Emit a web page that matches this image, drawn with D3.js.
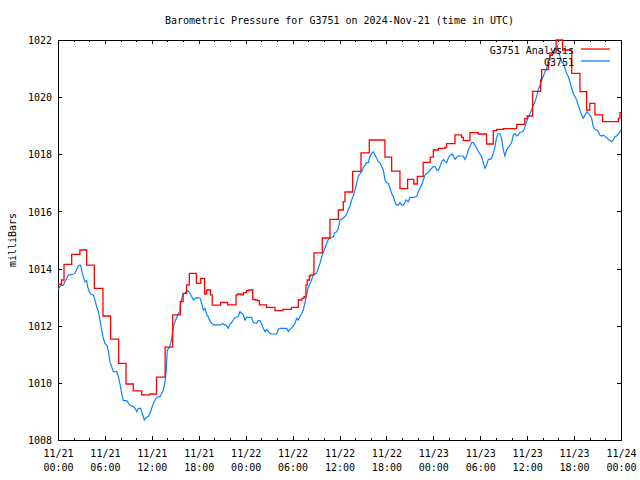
<!DOCTYPE html>
<html><head><meta charset="utf-8">
<script src="https://cdn.jsdelivr.net/npm/d3@7"></script>
<style>
body{margin:0;background:#fff}
svg text{font-family:"DejaVu Sans Mono",monospace;font-size:10px;fill:#000}
</style></head><body><svg id="c" width="640" height="480"></svg>
<script>
const chartTitle = "Barometric Pressure for G3751 on 2024-Nov-21 (time in UTC)";
const yAxisLabel = "milliBars";
const seriesNames = ["G3751 Analysis", "G3751"];
const seriesColors = ["#ff0000", "#0a84ff"];
const startUTC = Date.UTC(2024, 10, 21, 0, 0);
const spanHours = 72;
const yTicks = [1008, 1010, 1012, 1014, 1016, 1018, 1020, 1022];

// [hours since 11/21 00:00 UTC, millibars]
const analysisSeries = [
[0,1013.45],[0.45,1013.6],[0.77,1014.15],[1.75,1014.5],[2.8,1014.65],[3.67,1014.12],[4.65,1013.31],
[5.75,1012.34],[6.73,1011.53],[7.76,1010.68],[8.7,1009.96],[9.63,1009.72],[10.7,1009.58],[11.76,1009.61],
[12.6,1010.2],[13.7,1011.25],[14.67,1012.38],[15.64,1012.84],[16.0,1013.13],[16.45,1013.43],[16.8,1013.83],
[17.7,1013.48],[18.25,1013.66],[18.75,1013.11],[19.0,1013.25],[19.5,1013.08],[19.73,1012.72],[20.8,1012.82],
[21.7,1012.73],[22.77,1013.08],[23.0,1013.11],[23.4,1013.08],[23.7,1013.16],[24.1,1013.23],[24.4,1013.25],
[24.9,1012.92],[25.2,1012.9],[25.5,1012.88],[25.75,1012.73],[26.68,1012.64],[27.75,1012.53],[28.75,1012.57],
[29.87,1012.64],[30.73,1012.9],[31.2,1012.96],[31.46,1013.02],[31.71,1013.43],[31.88,1013.6],[32.14,1013.74],
[32.3,1013.78],[32.73,1014.55],[33.8,1015.07],[34.78,1015.72],[35.85,1016.05],[36.49,1016.34],[36.7,1016.68],
[37.68,1017.4],[38.75,1018.05],[39.81,1018.5],[41.81,1017.9],[42.67,1017.41],[43.73,1016.8],[44.71,1017.12],
[45.5,1016.96],[45.95,1017.23],[46.7,1017.72],[47.6,1017.9],[48.0,1018.15],[48.64,1018.21],[49.5,1018.24],
[49.7,1018.37],[50.77,1018.68],[51.6,1018.59],[51.83,1018.48],[52.68,1018.76],[53.75,1018.71],[54.8,1018.36],
[55.67,1018.83],[56.1,1018.87],[56.95,1018.9],[58.65,1019.05],[59.7,1019.25],[60.0,1019.34],[60.7,1020.2],
[61.72,1020.6],[61.85,1020.96],[62.7,1021.3],[62.9,1021.55],[63.7,1022.0],[64.53,1021.65],[65.7,1020.83],
[66.75,1020.19],[67.6,1019.55],[68.0,1019.78],[68.67,1019.38],[69.65,1019.14],[71.66,1019.26],[71.87,1019.46],
[72,1019.46]
];

const stationSeries = [
[0.04,1013.27],[0.26,1013.39],[0.68,1013.42],[1.11,1013.66],[1.32,1013.77],[1.96,1013.8],[2.17,1013.83],
[2.6,1014.09],[2.81,1014.12],[2.94,1014.07],[3.11,1013.83],[3.24,1013.72],[3.45,1013.54],[3.67,1013.58],
[3.79,1013.37],[4.0,1013.19],[4.18,1013.11],[4.52,1013.07],[4.73,1012.9],[4.94,1012.67],[5.16,1012.49],
[5.37,1012.2],[5.58,1011.85],[5.8,1011.56],[6.0,1011.38],[6.3,1011.29],[6.44,1011.09],[6.65,1010.74],
[6.86,1010.57],[7.08,1010.39],[7.5,1010.39],[7.72,1010.22],[7.93,1009.96],[8.14,1009.63],[8.35,1009.38],
[8.78,1009.38],[9.2,1009.22],[9.63,1009.17],[9.85,1009.11],[10.06,1008.99],[10.27,1009.11],[10.57,1009.11],
[10.83,1008.88],[11.04,1008.7],[11.25,1008.79],[11.55,1008.82],[11.76,1008.93],[11.98,1009.11],[12.19,1009.28],
[12.53,1009.46],[12.83,1009.52],[13.04,1009.52],[13.26,1009.63],[13.47,1009.75],[13.68,1010.04],[13.81,1010.33],
[13.9,1010.74],[13.98,1011.15],[14.24,1011.24],[14.41,1011.38],[14.58,1011.62],[14.75,1011.97],[14.96,1012.14],
[15.17,1012.29],[15.39,1012.43],[15.6,1012.49],[15.69,1012.78],[15.9,1013.04],[16.03,1013.11],[16.24,1013.13],
[16.37,1013.19],[16.67,1013.22],[16.88,1013.13],[17.09,1013.02],[17.31,1012.9],[17.52,1012.96],[17.73,1012.98],
[18.16,1012.97],[18.37,1012.8],[18.58,1012.55],[18.8,1012.61],[19.01,1012.4],[19.22,1012.3],[19.44,1012.16],
[19.65,1012.08],[19.87,1012.03],[20.5,1012.03],[20.8,1012.03],[21.0,1012.08],[21.36,1012.03],[21.57,1011.99],
[21.78,1011.91],[21.99,1012.06],[22.2,1012.11],[22.42,1012.2],[22.63,1012.29],[23.06,1012.32],[23.27,1012.49],
[23.49,1012.43],[23.7,1012.38],[23.91,1012.2],[24.12,1012.29],[24.76,1012.29],[24.98,1012.11],[25.4,1012.08],
[25.62,1012.18],[25.83,1012.18],[26.04,1012.08],[26.26,1011.91],[26.47,1011.79],[26.68,1011.87],[26.9,1011.79],
[27.11,1011.73],[27.32,1011.71],[27.96,1011.71],[28.17,1011.87],[28.39,1011.91],[29.24,1011.91],[29.45,1011.79],
[29.67,1011.87],[30.09,1011.99],[30.3,1012.08],[30.52,1012.26],[30.73,1012.2],[30.94,1012.32],[31.16,1012.43],
[31.37,1012.55],[31.58,1012.8],[31.8,1013.1],[32.01,1013.35],[32.23,1013.48],[32.44,1013.62],[32.65,1013.77],
[33.08,1013.85],[33.29,1014.01],[33.5,1014.18],[33.72,1014.42],[33.93,1014.56],[34.14,1014.71],[34.36,1014.88],
[34.57,1015.02],[34.78,1015.06],[35.21,1015.12],[35.42,1015.26],[35.64,1015.29],[35.85,1015.41],[36.06,1015.7],
[36.28,1015.73],[36.7,1015.82],[36.92,1015.91],[37.13,1016.07],[37.34,1016.19],[37.55,1016.4],[37.77,1016.54],
[37.98,1016.75],[38.19,1016.98],[38.41,1017.24],[38.62,1017.31],[38.83,1017.39],[39.05,1017.54],[39.26,1017.62],
[39.47,1017.71],[39.69,1017.71],[39.81,1017.86],[40.11,1018.03],[40.33,1018.09],[40.54,1017.97],[40.75,1017.86],
[40.96,1017.74],[41.18,1017.71],[41.39,1017.57],[41.6,1017.45],[41.82,1017.1],[42.03,1017.01],[42.24,1016.99],
[42.46,1016.81],[42.67,1016.63],[42.88,1016.52],[43.1,1016.31],[43.31,1016.22],[43.52,1016.22],[43.74,1016.31],
[43.95,1016.22],[44.16,1016.22],[44.37,1016.31],[44.5,1016.4],[44.8,1016.34],[45.01,1016.49],[45.44,1016.49],
[45.87,1016.52],[46.08,1016.69],[46.29,1016.81],[46.5,1016.92],[46.72,1017.1],[46.93,1017.27],[47.14,1017.33],
[47.36,1017.36],[47.57,1017.45],[47.78,1017.51],[48.0,1017.57],[48.21,1017.57],[48.42,1017.45],[48.63,1017.43],
[48.85,1017.57],[49.06,1017.74],[49.27,1017.82],[49.49,1017.74],[49.7,1017.71],[49.91,1017.86],[50.13,1017.97],
[50.34,1018.01],[50.55,1017.97],[50.77,1017.82],[50.98,1017.89],[51.19,1017.94],[51.83,1017.94],[52.04,1017.82],
[52.26,1017.94],[52.47,1018.15],[52.68,1018.27],[52.9,1018.41],[53.11,1018.41],[53.32,1018.32],[53.54,1018.21],
[53.75,1018.09],[53.96,1018.01],[54.18,1017.92],[54.39,1017.71],[54.6,1017.51],[54.82,1017.62],[55.03,1017.82],
[55.24,1017.82],[55.45,1017.86],[55.67,1018.03],[55.88,1018.27],[56.09,1018.59],[56.31,1018.73],[56.52,1018.71],
[56.73,1018.56],[56.95,1018.15],[57.16,1017.94],[57.37,1018.15],[57.59,1018.24],[57.8,1018.32],[58.01,1018.41],
[58.22,1018.67],[58.44,1018.73],[58.65,1018.64],[58.86,1018.67],[59.08,1018.77],[59.29,1018.78],[59.51,1018.82],
[59.72,1018.95],[59.93,1019.15],[60.15,1019.3],[60.36,1019.43],[60.57,1019.55],[60.79,1019.72],[61.0,1019.84],
[61.21,1020.02],[61.42,1020.25],[61.64,1020.42],[61.85,1020.6],[62.06,1020.72],[62.28,1020.89],[62.49,1021.01],
[62.7,1021.18],[62.92,1021.42],[63.13,1021.53],[63.34,1021.59],[63.56,1021.71],[63.68,1021.65],[63.85,1021.77],
[63.98,1021.65],[64.2,1021.42],[64.41,1021.24],[64.62,1021.18],[64.83,1021.01],[65.05,1020.83],[65.26,1020.72],
[65.47,1020.54],[65.69,1020.31],[65.9,1020.13],[66.11,1020.02],[66.33,1019.9],[66.54,1019.72],[66.75,1019.55],
[66.97,1019.37],[67.18,1019.26],[67.39,1019.37],[67.61,1019.49],[67.82,1019.43],[68.03,1019.37],[68.24,1019.26],
[68.46,1018.97],[68.67,1018.87],[68.88,1018.85],[69.1,1018.79],[69.31,1018.67],[69.52,1018.64],[69.74,1018.67],
[69.95,1018.62],[70.16,1018.59],[70.38,1018.52],[70.59,1018.48],[70.8,1018.44],[71.01,1018.5],[71.23,1018.62],
[71.44,1018.64],[71.65,1018.71],[71.87,1018.79],[72.0,1018.85]
];

const toDate = h => new Date(startUTC + h * 3600e3);
const W = 640, H = 480;
const plot = {left: 58, right: 621, top: 40, bottom: 440};

const svg = d3.select("#c");
svg.append("rect").attr("width", W).attr("height", H).attr("fill", "#fff");

const x = d3.scaleUtc().domain([toDate(0), toDate(spanHours)]).range([plot.left, plot.right]);
const y = d3.scaleLinear().domain([1008, 1022]).range([plot.bottom, plot.top]);

const major = d3.utcHour.every(6), minor = d3.utcHour.every(2);
const clean = g => { g.select(".domain").remove(); g.selectAll("line").attr("shape-rendering", "crispEdges"); };

// minor ticks
svg.append("g").attr("transform", `translate(0,${plot.bottom})`)
  .call(d3.axisBottom(x).ticks(minor).tickSize(-2).tickFormat("")).call(clean);
svg.append("g").attr("transform", `translate(0,${plot.top})`)
  .call(d3.axisTop(x).ticks(minor).tickSize(-2).tickFormat("")).call(clean);
// major x ticks
svg.append("g").attr("transform", `translate(0,${plot.top})`)
  .call(d3.axisTop(x).ticks(major).tickSize(-4).tickFormat("")).call(clean);
const fmtD = d3.utcFormat("%m/%d"), fmtT = d3.utcFormat("%H:%M");
const gx = svg.append("g").attr("transform", `translate(0,${plot.bottom})`)
  .call(d3.axisBottom(x).ticks(major).tickSize(-4).tickFormat(fmtD)).call(clean);
gx.selectAll(".tick text").each(function(d) {
  const t = d3.select(this);
  t.text(null).attr("y", null).attr("dy", null).attr("text-anchor", "middle");
  t.append("tspan").attr("x", 0).attr("y", 17).text(fmtD(d));
  t.append("tspan").attr("x", 0).attr("y", 31).text(fmtT(d));
});
// y ticks
svg.append("g").attr("transform", `translate(${plot.left},0)`)
  .call(d3.axisLeft(y).tickValues(yTicks).tickSize(-4).tickPadding(6).tickFormat(d3.format("d")))
  .call(clean).selectAll("text").attr("dy", "0.37em");
svg.append("g").attr("transform", `translate(${plot.right},0)`)
  .call(d3.axisRight(y).tickValues(yTicks).tickSize(-4).tickFormat("")).call(clean);

// frame
svg.append("rect").attr("x", plot.left + 0.5).attr("y", plot.top + 0.5)
  .attr("width", plot.right - plot.left).attr("height", plot.bottom - plot.top)
  .attr("fill", "none").attr("stroke", "#000");

// lines
const stepLine = d3.line().x(d => x(toDate(d[0]))).y(d => y(d[1])).curve(d3.curveStepAfter);
const plainLine = d3.line().x(d => x(toDate(d[0]))).y(d => y(d[1]));
svg.append("path").datum(stationSeries).attr("d", plainLine)
  .attr("fill", "none").attr("stroke", seriesColors[1]).attr("stroke-width", 1.2);
svg.append("path").datum(analysisSeries).attr("d", stepLine)
  .attr("fill", "none").attr("stroke", seriesColors[0]).attr("stroke-width", 1.3);

// title & y label
svg.append("text").attr("x", (plot.left + plot.right) / 2).attr("y", 24)
  .attr("text-anchor", "middle").text(chartTitle);
svg.append("text").attr("transform", `translate(16,${(plot.top + plot.bottom) / 2}) rotate(-90)`)
  .attr("text-anchor", "middle").text(yAxisLabel);

// legend
seriesNames.forEach((name, i) => {
  const ly = 49 + i * 12;
  svg.append("text").attr("x", 574).attr("y", ly + 4.5).attr("text-anchor", "end").text(name);
  svg.append("line").attr("x1", 581).attr("x2", 610).attr("y1", ly).attr("y2", ly)
    .attr("stroke", seriesColors[i]).attr("stroke-width", 1.3);
});
</script></body></html>
